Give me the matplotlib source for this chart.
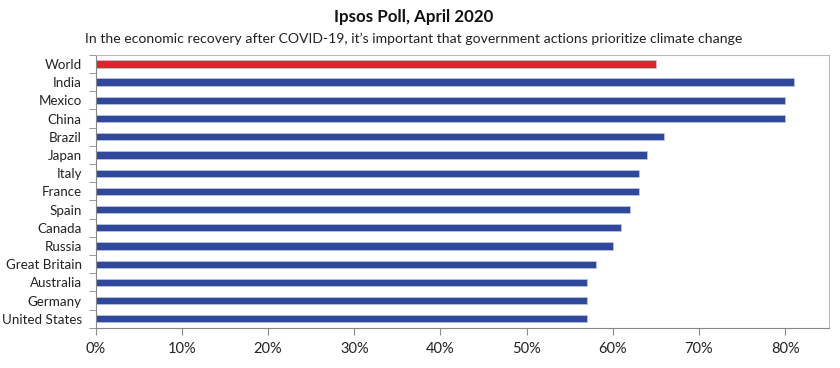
import numpy as np
import matplotlib.pyplot as plt
from matplotlib.ticker import FixedLocator, PercentFormatter

# Survey results (share agreeing, %)
countries = ['World', 'India', 'Mexico', 'China', 'Brazil', 'Japan', 'Italy', 'France',
             'Spain', 'Canada', 'Russia', 'Great Britain', 'Australia', 'Germany', 'United States']
values = [65, 81, 80, 80, 66, 64, 63, 63, 62, 61, 60, 58, 57, 57, 57]
x_ticks = [0, 10, 20, 30, 40, 50, 60, 70, 80]

plt.rcParams['font.family'] = ['Lato', 'DejaVu Sans']

fig = plt.figure(figsize=(8.4, 3.68), dpi=100)
ax = fig.add_axes([0.114, 0.109, 0.873, 0.742])

y = np.arange(len(countries))
colors = ['#E3232B'] + ['#2F489B'] * (len(countries) - 1)
ax.barh(y, values, height=0.4, color=colors, edgecolor='#C9D0E8', linewidth=0.4)

ax.set_xlim(0, 85.1)
ax.set_ylim(len(countries) - 0.5, -0.5)
ax.set_yticks(y)
ax.set_yticklabels(countries, fontsize=9.6, color='#222222')
ax.tick_params(axis='y', which='major', length=0, pad=10)
ax.yaxis.set_minor_locator(FixedLocator(np.arange(-0.5, len(countries), 1)))
ax.tick_params(axis='y', which='minor', length=5, color='#888888')

ax.xaxis.set_major_locator(FixedLocator(x_ticks))
ax.xaxis.set_major_formatter(PercentFormatter(decimals=0))
ax.tick_params(axis='x', length=5, color='#888888', labelsize=10.5, labelcolor='#222222', pad=5)

for side in ['left', 'bottom']:
    ax.spines[side].set_color('#888888')
for side in ['top', 'right']:
    ax.spines[side].set_color('#BBBBBB')

fig.text(0.493, 0.955, 'Ipsos Poll, April 2020', ha='center', va='center',
         fontsize=12.2, fontweight='bold', color='#111111')
fig.text(0.493, 0.895, 'In the economic recovery after COVID-19, it\u2019s important that government actions prioritize climate change',
         ha='center', va='center', fontsize=10.1, color='#222222')

fig.savefig('out.png', dpi=100)
